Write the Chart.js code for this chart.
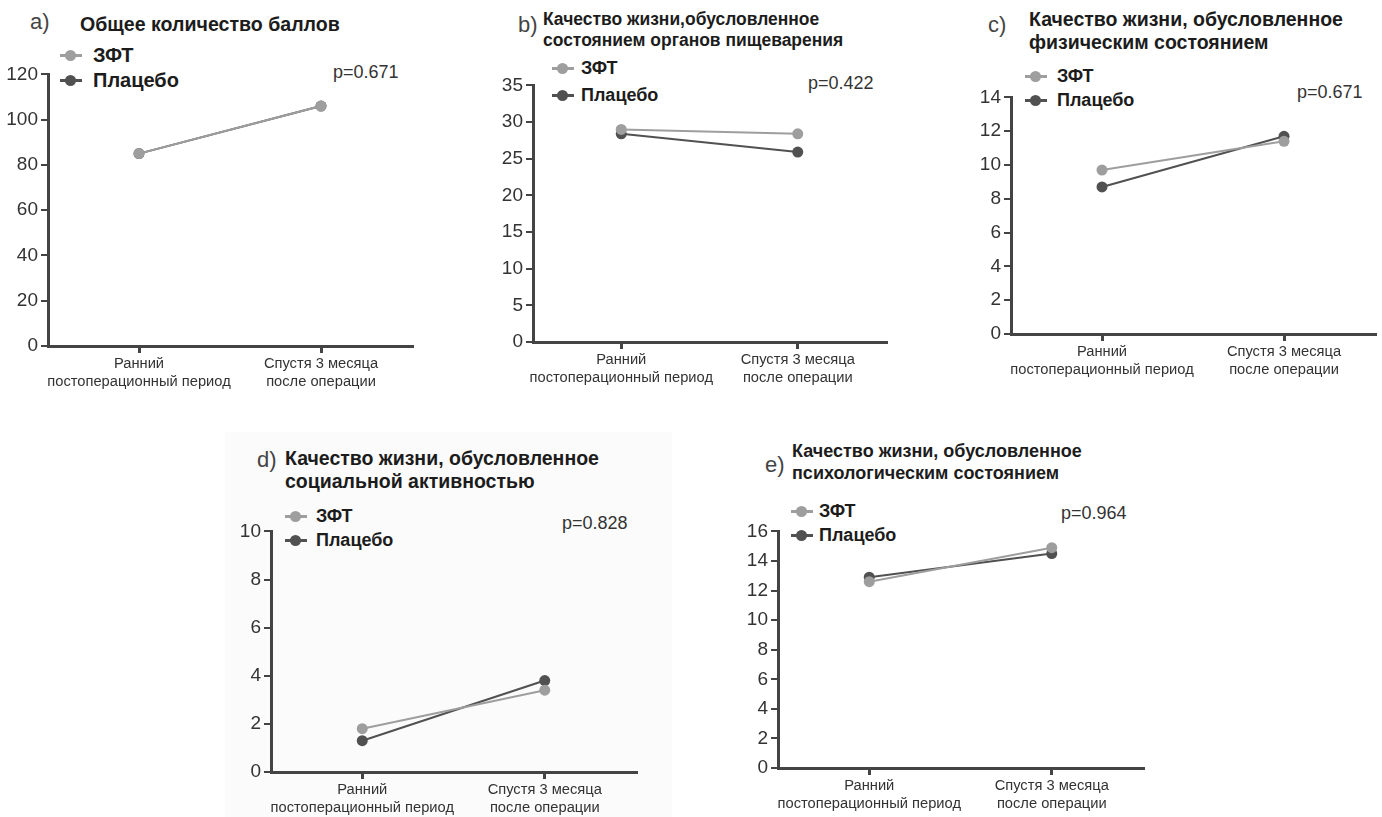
<!DOCTYPE html>
<html>
<head>
<meta charset="utf-8">
<script src="https://cdn.jsdelivr.net/npm/chart.js@4"></script>
<style>
  body { margin: 0; width: 1382px; height: 817px; overflow: hidden; background: #fff; position: relative; font-family: "Liberation Sans", Arial, sans-serif; }
  .abs { position: absolute; white-space: nowrap; }
  .title { font-weight: bold; color: #1c1c1c; transform-origin: left top; }
  .letter { color: #444; font-size: 22px; line-height: 26px; }
  .pval { color: #333; font-size: 18px; line-height: 20px; }
  .leg { display: flex; align-items: center; font-weight: bold; color: #1c1c1c; }
  .mark { position: relative; width: 22px; height: 11px; margin-right: 9px; }
  .mark .ln { position: absolute; left: 0; right: 0; top: 4px; height: 3px; }
  .mark .dot { position: absolute; left: 5px; top: 0; width: 11px; height: 11px; border-radius: 50%; }
  canvas { position: absolute; }
</style>
</head>
<body>
<div class="abs" style="left:225px;top:432px;width:447px;height:385px;background:#fbfbfb;"></div>
<script>
// data
const categories = [["Ранний", "постоперационный период"], ["Спустя 3 месяца", "после операции"]];
const seriesNames = ["ЗФТ", "Плацебо"];
const seriesColors = ["#9e9e9e", "#515151"];

const zftTotal = [85, 106];
const placeboTotal = [85, 106];
const zftDigest = [29, 28.4];
const placeboDigest = [28.4, 25.9];
const zftPhysical = [9.7, 11.4];
const placeboPhysical = [8.7, 11.7];
const zftSocial = [1.8, 3.4];
const placeboSocial = [1.3, 3.8];
const zftPsych = [12.6, 14.9];
const placeboPsych = [12.9, 14.5];

const yMaxes = [120, 35, 14, 10, 16];
const ySteps = [20, 5, 2, 2, 2];
const pValues = ["p=0.671", "p=0.422", "p=0.671", "p=0.828", "p=0.964"];
const letters = ["a)", "b)", "c)", "d)", "e)"];
const titles = [
    ["Общее количество баллов"],
    ["Качество жизни,обусловленное", "состоянием органов пищеварения"],
    ["Качество жизни, обусловленное", "физическим состоянием"],
    ["Качество жизни, обусловленное", "социальной активностью"],
    ["Качество жизни, обусловленное", "психологическим состоянием"]
];
const seriesData = [
    [zftTotal, placeboTotal],
    [zftDigest, placeboDigest],
    [zftPhysical, placeboPhysical],
    [zftSocial, placeboSocial],
    [zftPsych, placeboPsych]
];

// layout of each panel (pixels): title = [x, y, size, lineHeight, scaleX]
const panels = [
    { axisX: 48, topY: 72, y0: 346, right: 412,
      letter: [30, 9], title: [80, 12, 20.5, 24, 0.955], legend: [60, 55, 25, 20, 93], p: [333, 72] },
    { axisX: 533, topY: 83, y0: 342, right: 886,
      letter: [518, 12], title: [543, 9, 18, 21, 0.97], legend: [552, 68, 27, 18, 581], p: [808, 83] },
    { axisX: 1011, topY: 95, y0: 334, right: 1375,
      letter: [988, 12], title: [1029, 8, 19.5, 23, 1], legend: [1025, 76, 24, 18, 1057], p: [1297, 92] },
    { axisX: 271, topY: 529, y0: 772, right: 636,
      letter: [257, 447], title: [285, 447, 19.5, 23, 1], legend: [285, 516, 24, 18, 316], p: [562, 523] },
    { axisX: 778, topY: 529, y0: 768, right: 1143,
      letter: [765, 452], title: [792, 440, 18, 22, 1], legend: [791, 511, 24, 18, 819], p: [1061, 513] }
];

const yAxisW = 50, xAxisH = 60, padTop = 12, padRight = 8;
const tickFont = "'Liberation Sans', Arial, sans-serif";

function addDiv(cls, left, top, html, style) {
    var d = document.createElement("div");
    d.className = "abs " + cls;
    d.style.left = left + "px";
    d.style.top = top + "px";
    if (style) d.style.cssText += style;
    d.innerHTML = html;
    document.body.appendChild(d);
    return d;
}

function drawPanel(i) {
    var p = panels[i];

    addDiv("letter", p.letter[0], p.letter[1], letters[i]);
    addDiv("title", p.title[0], p.title[1], titles[i].join("<br>"),
        "font-size:" + p.title[2] + "px;line-height:" + p.title[3] + "px;transform:scaleX(" + p.title[4] + ");");
    addDiv("pval", p.p[0], p.p[1] - 10, pValues[i]);

    for (let s = 0; s < seriesNames.length; s++) {
        var cy = p.legend[1] + s * p.legend[2];
        var item = addDiv("leg", p.legend[0], cy - 12,
            '<div class="mark"><div class="ln" style="background:' + seriesColors[s] + '"></div>' +
            '<div class="dot" style="background:' + seriesColors[s] + '"></div></div>' +
            '<span>' + seriesNames[s] + '</span>',
            "height:24px;font-size:" + p.legend[3] + "px;");
        item.querySelector(".mark").style.marginRight = (p.legend[4] - p.legend[0] - 22) + "px";
    }

    var canvas = document.createElement("canvas");
    canvas.width = p.right - p.axisX + yAxisW + padRight;
    canvas.height = p.y0 - p.topY + padTop + xAxisH;
    canvas.style.left = (p.axisX - yAxisW) + "px";
    canvas.style.top = (p.topY - padTop) + "px";
    document.body.appendChild(canvas);

    new Chart(canvas.getContext("2d"), {
        type: "line",
        data: {
            labels: categories,
            datasets: seriesNames.map((name, s) => ({
                label: name,
                data: seriesData[i][s],
                borderColor: seriesColors[s],
                backgroundColor: seriesColors[s],
                pointBackgroundColor: seriesColors[s],
                pointBorderColor: seriesColors[s],
                borderWidth: 2,
                pointRadius: 5.5,
                pointBorderWidth: 0,
                clip: false
            }))
        },
        options: {
            responsive: false,
            animation: false,
            layout: { padding: { top: padTop, right: padRight, left: 0, bottom: 0 } },
            plugins: { legend: { display: false }, tooltip: { enabled: false } },
            scales: {
                x: {
                    offset: true,
                    afterFit: (scale) => { scale.height = xAxisH; },
                    grid: { display: true, offset: false, drawOnChartArea: false, drawTicks: true,
                            tickLength: 7, color: "#444", lineWidth: 3 },
                    border: { display: true, color: "#444", width: 3 },
                    ticks: { color: "#333", padding: 2, maxRotation: 0, autoSkip: false,
                             font: { family: tickFont, size: 14.7, lineHeight: 1.22 } }
                },
                y: {
                    min: 0,
                    max: yMaxes[i],
                    afterFit: (scale) => { scale.width = yAxisW; },
                    grid: { display: true, drawOnChartArea: false, drawTicks: true,
                            tickLength: 7, color: "#444", lineWidth: 2 },
                    border: { display: true, color: "#444", width: 3 },
                    ticks: { stepSize: ySteps[i], color: "#333", padding: 3,
                             font: { family: tickFont, size: 19 } }
                }
            }
        }
    });
}

for (let i = 0; i < panels.length; i++) drawPanel(i);
</script>
</body>
</html>
